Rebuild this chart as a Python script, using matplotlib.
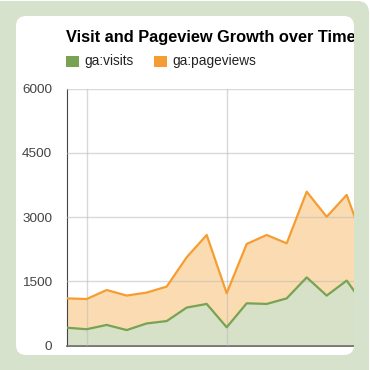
import matplotlib
matplotlib.use("Agg")
import matplotlib.pyplot as plt
from matplotlib.patches import FancyBboxPatch, Rectangle
from matplotlib.transforms import Bbox, TransformedBbox

# weekly values (last point is mostly hidden behind the card edge)
visits = [420, 385, 485, 365, 520, 575, 890, 975, 430, 990, 975, 1105, 1595, 1170, 1520, 870]
pageviews = [1105, 1090, 1300, 1170, 1240, 1380, 2065, 2585, 1225, 2375, 2585, 2390, 3595, 3010, 3520, 2240]
yticks = [0, 1500, 3000, 4500, 6000]
week = list(range(len(visits)))

W = 370.0
BG = "#d6e2cb"
GREEN = "#77a352"
ORANGE = "#f59d33"

plt.rcParams["font.family"] = ["Liberation Sans", "DejaVu Sans"]

fig = plt.figure(figsize=(3.7, 3.7), dpi=100, facecolor="white")


def fr(px):
    return px / W


# green frame and white card
fig.patches.append(FancyBboxPatch((fr(-12), fr(-12)), fr(381), fr(381),
                                  boxstyle="round,pad=0,rounding_size=%f" % fr(12),
                                  transform=fig.transFigure, fc=BG, ec="none", zorder=0))
card = FancyBboxPatch((fr(16), fr(370 - 355)), fr(338), fr(339),
                      boxstyle="round,pad=0,rounding_size=%f" % fr(10),
                      transform=fig.transFigure, fc="white", ec="none", zorder=1)
fig.patches.append(card)

left, right, top, bottom = 66.7, 354.0, 88.7, 345.7
ax = fig.add_axes([fr(left), fr(W - bottom), fr(right - left), fr(bottom - top)])
ax.set_zorder(2)
ax.set_facecolor("none")

ax.fill_between(week, 0, pageviews, color="#fbdcb2", lw=0, zorder=1)
ax.fill_between(week, 0, visits, color="#d6e1c8", lw=0, zorder=1.1)
ax.plot(week, pageviews, color=ORANGE, lw=1.6, zorder=3)
ax.plot(week, visits, color=GREEN, lw=1.6, zorder=3)

ax.set_ylim(0, 6000)
ax.set_xlim(0, (right - left) / 20.0)
ax.set_yticks(yticks)
ax.set_yticklabels([str(v) for v in yticks])
ax.set_xticks([1, 8])
ax.set_xticklabels([])
ax.tick_params(length=0, labelsize=9.7, labelcolor="#444444", pad=10.5)
ax.grid(True, color="#bbbbbb", lw=1, alpha=0.55, zorder=2)
ax.set_axisbelow(False)
for s in ["top", "right"]:
    ax.spines[s].set_visible(False)
ax.spines["left"].set_color("#444444")
ax.spines["bottom"].set_color("#666666")
ax.spines["bottom"].set_linewidth(1.2)

for a in ax.get_children():
    a.set_clip_path(card)

t = fig.text(fr(66), fr(W - 42), "Visit and Pageview Growth over Time",
             fontsize=11.8, fontweight="bold", color="black", va="baseline", zorder=3)
t.set_clip_box(TransformedBbox(Bbox([[0, 0], [fr(354), 1]]), fig.transFigure))

fig.patches.append(Rectangle((fr(66), fr(W - 67)), fr(13), fr(11),
                             transform=fig.transFigure, fc=GREEN, ec="none", zorder=3))
fig.text(fr(84.5), fr(W - 65.5), "ga:visits", fontsize=9.8, color="#222222", va="baseline", zorder=3)
fig.patches.append(Rectangle((fr(154), fr(W - 67)), fr(13), fr(11),
                             transform=fig.transFigure, fc=ORANGE, ec="none", zorder=3))
fig.text(fr(172), fr(W - 65.5), "ga:pageviews", fontsize=9.8, color="#222222", va="baseline", zorder=3)

fig.savefig("out.png", dpi=100, facecolor="white")
